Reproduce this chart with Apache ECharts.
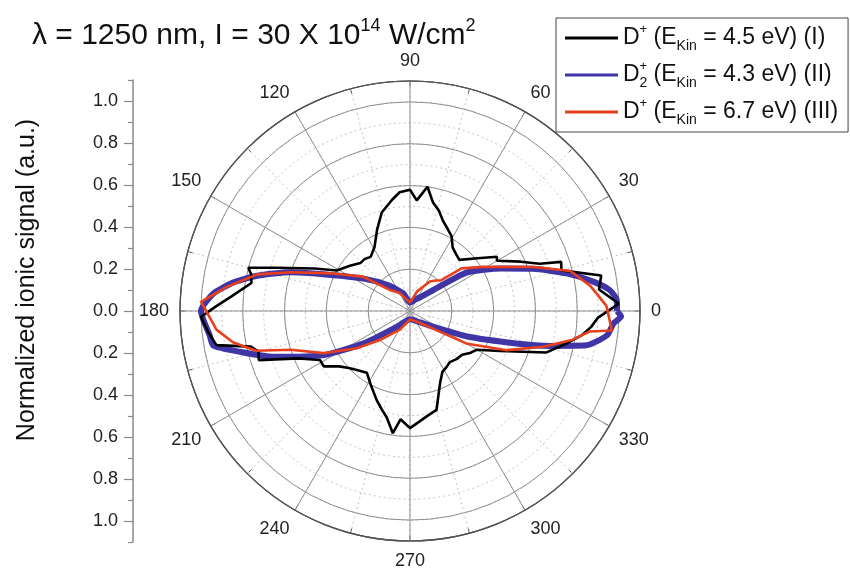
<!DOCTYPE html>
<html><head><meta charset="utf-8">
<script src="https://cdn.jsdelivr.net/npm/echarts@6/dist/echarts.min.js"></script>
<style>html,body{margin:0;padding:0;background:#fff}#c{width:850px;height:570px}</style>
</head><body><div id="c"></div>
<script>
// ---- text ----
const titleParts = ['λ = 1250 nm, I = 30 X 10', '14', ' W/cm', '2'];
const yAxisTitle = 'Normalized ionic signal (a.u.)';
const seriesNames = ['D+ (EKin = 4.5 eV) (I)', 'D2+ (EKin = 4.3 eV) (II)', 'D+ (EKin = 6.7 eV) (III)'];
// ---- axes ----
const angleTickStep = 30;
const radiusMax = 1.1;
const leftTickValues = [-1.0, -0.8, -0.6, -0.4, -0.2, 0.0, 0.2, 0.4, 0.6, 0.8, 1.0];
const leftMinorValues = [-1.1, -0.9, -0.7, -0.5, -0.3, -0.1, 0.1, 0.3, 0.5, 0.7, 0.9, 1.1];
// ---- data: angle (deg) and normalized signal ----
const blackAngle = [2, 6.5, 10.5, 15, 18, 20, 24, 30, 32, 38, 46, 51, 56, 61, 65, 70, 74, 78, 82, 86.5, 90, 95, 99, 106, 112, 119, 126, 131, 136, 143, 151, 156, 162, 165, 167, 170, 175.5, 178.7, 181.6, 186, 190, 192.6, 195, 198, 203, 208.6, 212.7, 218, 223, 228, 235, 242, 249.5, 254, 257.6, 262, 265, 270, 275, 279, 285, 289, 293, 298, 303, 308, 314, 320, 325, 330, 336, 343, 348, 352, 355, 358];
const blackR = [1.00, 0.91, 0.93, 0.75, 0.76, 0.66, 0.58, 0.48, 0.49, 0.41, 0.34, 0.35, 0.365, 0.41, 0.43, 0.46, 0.50, 0.53, 0.60, 0.53, 0.58, 0.57, 0.54, 0.49, 0.42, 0.35, 0.32, 0.33, 0.33, 0.36, 0.40, 0.50, 0.67, 0.80, 0.78, 0.77, 0.86, 0.93, 1.00, 0.97, 0.94, 0.78, 0.75, 0.76, 0.58, 0.49, 0.49, 0.43, 0.40, 0.38, 0.36, 0.40, 0.455, 0.49, 0.52, 0.59, 0.52, 0.56, 0.53, 0.51, 0.49, 0.42, 0.37, 0.33, 0.32, 0.31, 0.32, 0.325, 0.35, 0.37, 0.47, 0.68, 0.76, 0.83, 0.87, 0.90];
const blueAngle = [0, 3, 6, 9, 13.5, 19, 25, 34, 42, 51, 65, 90, 111, 130, 145, 157, 162, 167, 171, 175, 180, 187, 190, 193.5, 198.5, 207, 215, 230, 270, 310, 326, 336, 343, 346, 349, 353, 356.5, 358.5];
const blueR = [0.99, 0.99, 0.96, 0.89, 0.77, 0.62, 0.48, 0.33, 0.15, 0.09, 0.06, 0.04, 0.09, 0.16, 0.27, 0.45, 0.60, 0.75, 0.86, 0.945, 1.0, 0.965, 0.955, 0.836, 0.69, 0.465, 0.27, 0.10, 0.04, 0.07, 0.134, 0.30, 0.53, 0.69, 0.86, 0.95, 0.975, 1.01];
const redAngle = [1.5, 8, 14, 19.5, 31, 39.6, 44.5, 50, 56, 70, 90, 120, 134, 144, 154, 162, 166.5, 168, 172.5, 177.5, 185.5, 190, 193, 194.5, 198, 206, 215, 224, 242, 270, 310, 325, 330, 338, 345, 350, 351.5, 353.5, 354.5];
const redR = [0.94, 0.87, 0.79, 0.63, 0.41, 0.32, 0.21, 0.19, 0.17, 0.10, 0.04, 0.10, 0.14, 0.28, 0.41, 0.60, 0.75, 0.78, 0.885, 1.0, 0.93, 0.86, 0.79, 0.76, 0.60, 0.46, 0.31, 0.20, 0.10, 0.04, 0.075, 0.17, 0.31, 0.50, 0.66, 0.79, 0.82, 0.865, 0.97];

function closedLoop(angles, radii) {
  const pts = angles.map((a, i) => [radii[i], a]);
  pts.push(pts[0].slice());
  return pts;
}
const FONT = 'Liberation Sans, Arial, Helvetica, sans-serif';
const legendRich = {
  n: {fontSize: 23, fontFamily: FONT, color: '#111', lineHeight: 30},
  sup: {fontSize: 13, fontFamily: FONT, color: '#111', lineHeight: 16, verticalAlign: 'top'},
  sub: {fontSize: 14, fontFamily: FONT, color: '#111', lineHeight: 14, verticalAlign: 'bottom'},
  sub0: {fontSize: 14, fontFamily: FONT, color: '#111', lineHeight: 14, verticalAlign: 'bottom', width: 0}
};
const legendFmt = {};
legendFmt[seriesNames[0]] = '{n|D}{sup|+}{n| (E}{sub|Kin}{n| = 4.5 eV) (I)}';
legendFmt[seriesNames[1]] = '{n|D}{sub0|2}{sup|+}{n| (E}{sub|Kin}{n| = 4.3 eV) (II)}';
legendFmt[seriesNames[2]] = '{n|D}{sup|+}{n| (E}{sub|Kin}{n| = 6.7 eV) (III)}';

const center = [410, 311];
const R = 230;
const gridColor = '#8f8f8f';
const dotColor = '#c4c4c4';

const chart = echarts.init(document.getElementById('c'), null, {renderer: 'canvas'});
chart.setOption({
  animation: false,
  backgroundColor: '#fff',
  title: {
    left: 27, top: 12,
    text: '{n|' + titleParts[0] + '}{sup|' + titleParts[1] + '}{n|' + titleParts[2] + '}{sup|' + titleParts[3] + '}',
    textStyle: {fontWeight: 'normal', rich: {
      n: {fontSize: 30, fontFamily: FONT, fontWeight: 'normal', color: '#111', lineHeight: 38},
      sup: {fontSize: 18, fontFamily: FONT, fontWeight: 'normal', color: '#111', lineHeight: 22, verticalAlign: 'top'}
    }}
  },
  legend: {
    orient: 'vertical', left: 556, top: 18,
    itemWidth: 53, itemHeight: 3, itemGap: 7, icon: 'rect',
    borderColor: '#444', borderWidth: 1, backgroundColor: '#fff',
    padding: [5, 10, 5, 9],
    data: seriesNames,
    formatter: name => legendFmt[name],
    textStyle: {fontSize: 23, fontFamily: FONT, color: '#111', rich: legendRich}
  },
  graphic: [{
    type: 'text', x: 27, y: 280, rotation: Math.PI / 2,
    style: {text: yAxisTitle, font: '25px ' + FONT, fill: '#111', align: 'center', verticalAlign: 'middle'}
  }],
  grid: {left: 133, top: 311 - 210 * 1.1, width: 10, height: 420 * 1.1},
  xAxis: {type: 'value', show: false},
  yAxis: [{
    type: 'value', min: -1.1, max: 1.1,
    axisLine: {show: true, lineStyle: {color: '#8a8a8a', width: 1.5}},
    axisTick: {show: true, length: 9, customValues: leftTickValues, lineStyle: {color: '#8a8a8a', width: 1.2}},
    axisLabel: {show: true, customValues: leftTickValues, margin: 15, fontSize: 18, fontFamily: FONT, color: '#222',
      formatter: v => Math.abs(v).toFixed(1)},
    splitLine: {show: false}
  }, {
    type: 'value', min: -1.1, max: 1.1, position: 'left',
    axisLine: {show: false},
    axisTick: {show: true, length: 5, customValues: leftMinorValues, lineStyle: {color: '#8a8a8a', width: 1.2}},
    axisLabel: {show: false},
    splitLine: {show: false}
  }],
  polar: [{center: center, radius: R}, {center: center, radius: R}],
  angleAxis: [{
    polarIndex: 0, type: 'value', min: 0, max: 360, interval: 15,
    startAngle: 0, clockwise: false,
    axisLine: {show: true, lineStyle: {color: '#555', width: 1.2}},
    axisTick: {show: true, inside: true, length: 5, lineStyle: {color: '#555'}},
    axisLabel: {show: false},
    splitLine: {show: true, lineStyle: {color: dotColor, type: [2, 3], width: 1}}
  }, {
    polarIndex: 1, type: 'value', min: 0, max: 360, interval: angleTickStep,
    startAngle: 0, clockwise: false,
    axisLine: {show: true, lineStyle: {color: '#555', width: 1.2}},
    axisTick: {show: false},
    axisLabel: {show: true, margin: 11, fontSize: 18, fontFamily: FONT, color: '#222',
      formatter: v => (v >= 360 ? '' : String(v))},
    splitLine: {show: true, lineStyle: {color: gridColor, width: 1}}
  }],
  radiusAxis: [{
    polarIndex: 0, type: 'value', min: 0, max: radiusMax, interval: 0.1,
    axisLine: {show: false}, axisTick: {show: false}, axisLabel: {show: false},
    splitLine: {show: true, lineStyle: {color: dotColor, type: [2, 3], width: 1}}
  }, {
    polarIndex: 1, type: 'value', min: 0, max: radiusMax, interval: 0.2,
    axisLine: {show: false}, axisTick: {show: false}, axisLabel: {show: false},
    splitLine: {show: true, lineStyle: {color: gridColor, width: 1}}
  }],
  series: [{
    name: seriesNames[0], type: 'line', coordinateSystem: 'polar', polarIndex: 0,
    data: closedLoop(blackAngle, blackR), showSymbol: false, symbol: 'none', z: 4,
    itemStyle: {color: '#000'}, lineStyle: {color: '#000', width: 2.6}
  }, {
    name: seriesNames[1], type: 'line', coordinateSystem: 'polar', polarIndex: 0,
    data: closedLoop(blueAngle, blueR), showSymbol: false, symbol: 'none', z: 3, smooth: 0.2,
    itemStyle: {color: '#3f35a6'}, lineStyle: {color: '#3f35a6', width: 6}
  }, {
    name: seriesNames[2], type: 'line', coordinateSystem: 'polar', polarIndex: 0,
    data: closedLoop(redAngle, redR), showSymbol: false, symbol: 'none', z: 5,
    itemStyle: {color: '#e8401c'}, lineStyle: {color: '#e8401c', width: 2.6}
  }]
});
</script>
</body></html>
